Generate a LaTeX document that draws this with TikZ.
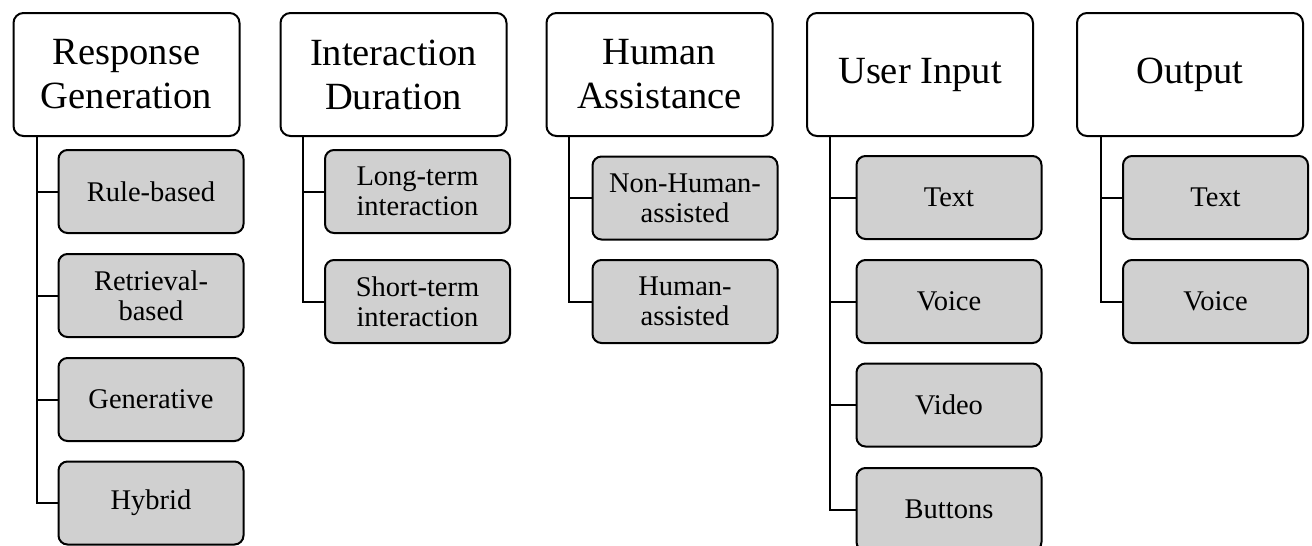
\documentclass[tikz,border=0pt]{standalone}
\usepackage{fontspec}
\setmainfont{Liberation Serif}
\definecolor{boxgray}{RGB}{208,208,208}
\tikzset{
  head/.style={draw=black, line width=2pt, rounded corners=10pt, fill=white,
    minimum width=226pt, minimum height=123pt, align=center, inner sep=0pt,
    font=\fontsize{38.5}{44}\selectfont},
  leaf/.style={draw=black, line width=2pt, rounded corners=9pt, fill=boxgray,
    minimum width=185pt, minimum height=83pt, align=center, inner sep=0pt,
    font=\fontsize{28.5}{30}\selectfont},
  conn/.style={draw=black, line width=2pt}
}
\begin{document}
\begin{tikzpicture}[x=1pt,y=-1pt]
\useasboundingbox (0,0) rectangle (1312,546);
% headers
\node[head] (h1) at (126.5,74.5) {Response\\Generation};
\node[head] (h2) at (393.5,74.5) {Interaction\\Duration};
\node[head] (h3) at (659.5,74.5) {Human\\Assistance};
\node[head] (h4) at (920,74.5) {User Input};
\node[head] (h5) at (1190,74.5) {Output};
% trunk positions
\coordinate (t1) at (37,0);
\coordinate (t2) at (303,0);
\coordinate (t3) at (569,0);
\coordinate (t4) at (830,0);
\coordinate (t5) at (1101,0);
% leaves
\node[leaf] (c11) at (151,191.5) {Rule-based};
\node[leaf] (c12) at (151,295.5) {Retrieval-\\based};
\node[leaf] (c13) at (151,399.5) {Generative};
\node[leaf] (c14) at (151,503) {Hybrid};
\node[leaf] (c21) at (417.5,191.5) {Long-term\\interaction};
\node[leaf] (c22) at (417.5,301.5) {Short-term\\interaction};
\node[leaf] (c31) at (685,198) {Non-Human-\\assisted};
\node[leaf] (c32) at (685,301.5) {Human-\\assisted};
\node[leaf] (c41) at (949,197.5) {Text};
\node[leaf] (c42) at (949,301.5) {Voice};
\node[leaf] (c43) at (949,405) {Video};
\node[leaf] (c44) at (949,509.5) {Buttons};
\node[leaf] (c51) at (1215.5,197.5) {Text};
\node[leaf] (c52) at (1215.5,301.5) {Voice};
% connectors
\foreach \h/\t/\c in {h1/t1/c11,h1/t1/c12,h1/t1/c13,h1/t1/c14,
                      h2/t2/c21,h2/t2/c22,
                      h3/t3/c31,h3/t3/c32,
                      h4/t4/c41,h4/t4/c42,h4/t4/c43,h4/t4/c44,
                      h5/t5/c51,h5/t5/c52}
  \draw[conn] (\h.south -| \t) |- (\c.west);
\end{tikzpicture}
\end{document}
